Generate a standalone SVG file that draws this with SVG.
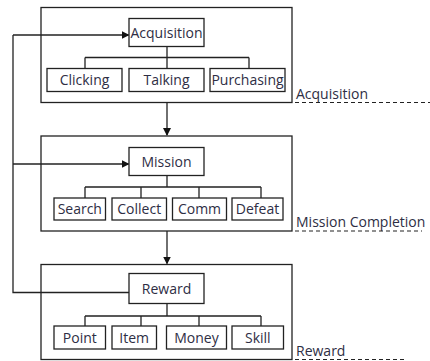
<svg xmlns="http://www.w3.org/2000/svg" width="430" height="361" viewBox="0 0 430 361">
<style>
rect{fill:#fff;stroke:#222;stroke-width:1.3}
.c{fill:none}
text{font-family:"Open Sans","Noto Sans","DejaVu Sans",sans-serif;font-size:14px;fill:#2e2e44}
.m{text-anchor:middle}
.ln{fill:none;stroke:#222;stroke-width:1.3}
.d{fill:none;stroke:#222;stroke-width:1.2;stroke-dasharray:4 3}
</style>
<defs>
<marker id="ar" markerWidth="8" markerHeight="8" refX="7" refY="4" orient="auto" markerUnits="userSpaceOnUse">
<path d="M0,0 L8,4 L0,8 Z" fill="#111"/>
</marker>
</defs>
<g id="acq-stage">
<rect class="c" x="41" y="7.5" width="251" height="95"/>
<text x="296" y="99">Acquisition</text>
<path class="d" d="M295,102.5 H430"/>
</g>
<g id="mis-stage">
<rect class="c" x="41" y="136" width="251" height="95"/>
<text x="296" y="227">Mission Completion</text>
<path class="d" d="M295,231 H422"/>
</g>
<g id="rew-stage">
<rect class="c" x="41" y="264.5" width="251" height="95"/>
<text x="296" y="356">Reward</text>
<path class="d" d="M295,359.5 H405"/>
</g>
<g id="connectors">
<path class="ln" d="M167,46 V57.5 M85,57.5 H249 M85,57.5 V68 M249,57.5 V68 M167,57.5 V68"/>
<path class="ln" d="M167,102.5 V135" marker-end="url(#ar)"/>
<path class="ln" d="M167,175 V187 M85,187 H261 M85,187 V198 M141,187 V198 M199,187 V198 M261,187 V198"/>
<path class="ln" d="M167,231 V263.5" marker-end="url(#ar)"/>
<path class="ln" d="M167,303 V316 M85,316 H261 M85,316 V326 M141,316 V326 M199,316 V326 M261,316 V326"/>
<path class="ln" d="M129,292.5 H13 V35"/>
<path class="ln" d="M13,35 H128.5" marker-end="url(#ar)"/>
<path class="ln" d="M13,164 H128.5" marker-end="url(#ar)"/>
</g>
<g id="acquisition"><rect x="129" y="18.5" width="75" height="28"/><text class="m" x="166.5" y="38">Acquisition</text></g>
<g id="clicking"><rect x="47" y="68.5" width="75" height="23"/><text class="m" x="84.5" y="85">Clicking</text></g>
<g id="talking"><rect x="129" y="68.5" width="75" height="23"/><text class="m" x="166.5" y="85">Talking</text></g>
<g id="purchasing"><rect x="210" y="68.5" width="75" height="23"/><text class="m" x="247.5" y="85">Purchasing</text></g>
<g id="mission"><rect x="129" y="147.5" width="75" height="28"/><text class="m" x="166.5" y="167">Mission</text></g>
<g id="search"><rect x="54" y="198" width="51.5" height="22"/><text class="m" x="79.8" y="214">Search</text></g>
<g id="collect"><rect x="112" y="198" width="54.5" height="22"/><text class="m" x="139.2" y="214">Collect</text></g>
<g id="comm"><rect x="172.5" y="198" width="54" height="22"/><text class="m" x="199.5" y="214">Comm</text></g>
<g id="defeat"><rect x="232" y="198" width="51" height="22"/><text class="m" x="257.5" y="214">Defeat</text></g>
<g id="reward"><rect x="129" y="273.5" width="75" height="30"/><text class="m" x="166.5" y="294">Reward</text></g>
<g id="point"><rect x="54" y="326" width="51.5" height="23"/><text class="m" x="79.8" y="343">Point</text></g>
<g id="item"><rect x="112" y="326" width="44.5" height="23"/><text class="m" x="134.2" y="343">Item</text></g>
<g id="money"><rect x="166.5" y="326" width="60" height="23"/><text class="m" x="196.5" y="343">Money</text></g>
<g id="skill"><rect x="232" y="326" width="51.5" height="23"/><text class="m" x="257.8" y="343">Skill</text></g>
</svg>
